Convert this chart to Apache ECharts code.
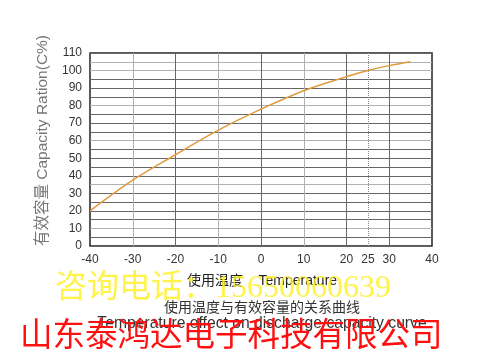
<!DOCTYPE html>
<html><head><meta charset="utf-8">
<script src="https://cdn.jsdelivr.net/npm/echarts@6/dist/echarts.min.js"></script>
<style>html,body{margin:0;padding:0;background:#fff}#c{width:480px;height:360px}</style>
</head><body><div id="c"></div>
<script>
var temps = [-40, -30, -20, -10, 0, 10, 20, 25, 30, 35];
var capacity = [20, 37.5, 52, 66, 78, 88.5, 96.5, 100, 102.8, 105];
var yTicks = {min: 0, max: 110, step: 5};
var xTicks = {min: -40, max: 40, step: 5};
var xShown = [-40, -30, -20, -10, 0, 10, 20, 25, 30, 40];

var D = '#666', L = '#b0b0b0', T = 'rgba(0,0,0,0)';
var yColors = [D, D, L, D, D, D, D, L, D, D, D, D, L, D, D, D, L, D, D, D, L, L, D];
var xColors = [];
for (var v = xTicks.min; v <= xTicks.max; v += xTicks.step) {
  if (v % 10 !== 0 || v === -40 || v === 40) xColors.push(T);
  else if (v === -30 || v === -10 || v === 10) xColors.push(L);
  else xColors.push(D);
}

var chart = echarts.init(document.getElementById('c'), null, {renderer: 'canvas'});
chart.setOption({
  backgroundColor: '#fff',
  animation: false,
  grid: {left: 90, right: 48, top: 53, bottom: 114, show: true, borderColor: '#222', borderWidth: 1.5, backgroundColor: 'transparent'},
  xAxis: {
    type: 'value', min: xTicks.min, max: xTicks.max, interval: xTicks.step,
    axisLine: {show: false}, axisTick: {show: false},
    axisLabel: {color: '#333', fontSize: 12, fontFamily: 'Liberation Sans, Arial', margin: 8,
      formatter: function (v) { return xShown.indexOf(v) >= 0 ? String(v) : ''; }},
    splitLine: {show: true, lineStyle: {color: xColors, width: 1}}
  },
  yAxis: {
    type: 'value', min: yTicks.min, max: yTicks.max, interval: yTicks.step,
    axisLine: {show: false}, axisTick: {show: false},
    axisLabel: {color: '#333', fontSize: 12, fontFamily: 'Liberation Sans, Arial', margin: 8,
      formatter: function (v) { return v % 10 === 0 ? String(v) : ''; }},
    splitLine: {show: true, lineStyle: {color: yColors, width: 1}}
  },
  series: [{
    type: 'line', data: temps.map(function (t, i) { return [t, capacity[i]]; }),
    smooth: 0.35, showSymbol: false,
    lineStyle: {color: '#e09a3c', width: 1.5},
    markLine: {silent: true, symbol: 'none', label: {show: false},
      lineStyle: {type: 'dotted', color: '#888', width: 1},
      data: [{xAxis: 25}]}
  }],
  graphic: [
    {type: 'text', x: 35, y: 246, rotation: Math.PI / 2,
     style: {text: '有效容量 Capacity Ration(C%)', fill: '#777', font: '15.5px "Liberation Sans", "Noto Sans CJK SC"'}},
    {type: 'text', x: 262, y: 274,
     style: {text: '使用温度    Temperature', textAlign: 'center', fill: '#222', font: '14px "Liberation Sans", "Noto Sans CJK SC"'}},
    {type: 'text', x: 262, y: 300,
     style: {text: '使用温度与有效容量的关系曲线', textAlign: 'center', fill: '#333', font: '14px "Noto Sans CJK SC"'}},
    {type: 'text', x: 262, y: 316,
     style: {text: 'Temperature effect on discharge capacity curve', textAlign: 'center', fill: '#333', font: '15.7px "Liberation Sans", Arial'}},
    {type: 'text', x: 55, y: 273,
     style: {text: '咨询电话：15650060639', fill: 'rgba(255,240,40,0.85)', font: '32px "Liberation Serif", "Noto Sans CJK SC"'}},
    {type: 'text', x: 20, y: 317,
     style: {text: '山东泰鸿达电子科技有限公司', fill: '#ff1010', font: '32.5px "Noto Sans CJK SC"'}}
  ]
});
</script></body></html>
